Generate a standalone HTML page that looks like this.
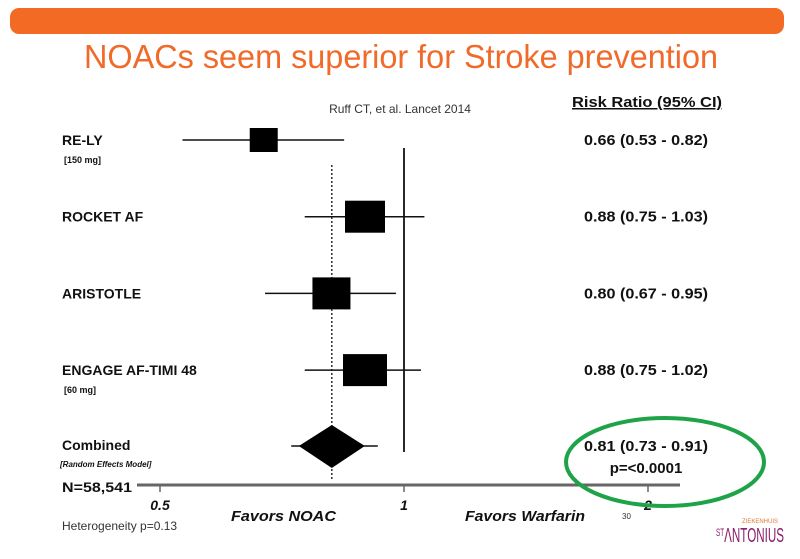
<!DOCTYPE html>
<html><head><meta charset="utf-8"><style>
body{margin:0;background:#fff;}
svg text{font-family:"Liberation Sans",Arial,sans-serif;}
</style></head><body>
<svg width="800" height="554" viewBox="0 0 800 554" xmlns="http://www.w3.org/2000/svg">
<rect x="10" y="8" width="774" height="26" rx="9" fill="#f26a24"/>
<text x="401" y="68" text-anchor="middle" font-size="33" fill="#f06a2a" textLength="634" lengthAdjust="spacingAndGlyphs">NOACs seem superior for Stroke prevention</text>
<text x="400" y="113" text-anchor="middle" font-size="12" fill="#333">Ruff CT, et al. Lancet 2014</text>
<text x="647" y="107" text-anchor="middle" font-size="15" font-weight="bold" fill="#111" text-decoration="underline" textLength="150" lengthAdjust="spacingAndGlyphs">Risk Ratio (95% CI)</text>
<g id="plot"></g>
<ellipse cx="665" cy="462" rx="99" ry="44" fill="none" stroke="#1fa348" stroke-width="4"/>
<text x="62" y="492" font-size="14" font-weight="bold" fill="#111" textLength="70" lengthAdjust="spacingAndGlyphs">N=58,541</text>
<text x="231" y="521" font-size="15" font-weight="bold" font-style="italic" fill="#111" textLength="105" lengthAdjust="spacingAndGlyphs">Favors NOAC</text>
<text x="465" y="521" font-size="15" font-weight="bold" font-style="italic" fill="#111" textLength="120" lengthAdjust="spacingAndGlyphs">Favors Warfarin</text>
<text x="62" y="530" font-size="12" fill="#333">Heterogeneity p=0.13</text>
<text x="622" y="519" font-size="8" fill="#333">30</text>
<text x="760" y="523" font-size="6" fill="#e0783a" text-anchor="middle">ZIEKENHUIS</text>
<text x="716" y="542" font-size="20" fill="#8b1d6b" textLength="68" lengthAdjust="spacingAndGlyphs"><tspan font-size="11" dy="-6">ST</tspan><tspan dy="6">ΛNTONIUS</tspan></text>
</svg>
<script>
const studies=["RE-LY","ROCKET AF","ARISTOTLE","ENGAGE AF-TIMI  48"];
const subs=["[150 mg]","","","[60 mg]"];
const rr=[0.66,0.88,0.80,0.88];
const lo=[0.53,0.75,0.67,0.75];
const hi=[0.82,1.03,0.95,1.02];
const weights=[0.7,1,0.95,1.1];
const combined=[0.81,0.73,0.91];
const ticks=[0.5,1,2];
const tickLabels=["0.5","1","2"];
const NS="http://www.w3.org/2000/svg";
const g=document.getElementById('plot');
const x=v=>406+244*Math.log2(v);
const rowY=i=>140+i*76.7;
function el(t,a){const e=document.createElementNS(NS,t);for(const k in a)e.setAttribute(k,a[k]);g.appendChild(e);return e;}
let e;
e=el('line',{x1:404,x2:404,y1:148,y2:452,stroke:'#111','stroke-width':1.8});


e=el('line',{x1:x(combined[0]),x2:x(combined[0]),y1:165,y2:480,stroke:'#111','stroke-width':1.3,'stroke-dasharray':'2,2'});


e=el('line',{x1:137,x2:680,y1:485,y2:485,stroke:'#666','stroke-width':3});


ticks.forEach((t,i)=>{
 e=el('line',{x1:x(t)-2,x2:x(t)-2,y1:486,y2:492,stroke:'#666','stroke-width':1.5});
 
 
 e=el('text',{x:x(t)-2,y:510,'text-anchor':'middle','font-size':14,'font-weight':'bold','font-style':'italic',fill:'#111'});
 e.textContent=tickLabels[i];
 
 
});
studies.forEach((s,i)=>{
 const y=rowY(i);
 e=el('text',{x:62,y:y+5,'font-size':14,'font-weight':'bold',fill:'#111'});e.textContent=s;
 
 
 if(subs[i]){e=el('text',{x:64,y:y+23,'font-size':9,'font-weight':'bold',fill:'#111'});e.textContent=subs[i];
 
 }
 e=el('line',{x1:x(lo[i]),x2:x(hi[i])+8,y1:y,y2:y,stroke:'#111','stroke-width':1.5});
 
 
 const w=40*weights[i],h=32*Math.min(1,weights[i]+0.05);
 e=el('rect',{x:x(rr[i])-w/2+4,y:y-h/2,width:w,height:h,fill:'#000'});
 
 
 e=el('text',{x:646,y:y+5,'text-anchor':'middle','font-size':15,'font-weight':'bold',fill:'#111',textLength:124,lengthAdjust:'spacingAndGlyphs'});
 e.textContent=rr[i].toFixed(2)+" ("+lo[i].toFixed(2)+" - "+hi[i].toFixed(2)+")";
 
 
});
const cy=446;
e=el('text',{x:62,y:cy+4,'font-size':14,'font-weight':'bold',fill:'#111'});e.textContent="Combined";


e=el('text',{x:60,y:cy+21,'font-size':8,'font-weight':'bold','font-style':'italic',fill:'#111'});e.textContent="[Random Effects Model]";


e=el('line',{x1:x(combined[1])-4,x2:x(combined[2])+5,y1:cy,y2:cy,stroke:'#111','stroke-width':1.5});


const cx=x(combined[0]);
e=el('polygon',{points:`${cx-33},${cy} ${cx},${cy-21} ${cx+33},${cy} ${cx},${cy+22}`,fill:'#000'});


e=el('text',{x:646,y:cy+5,'text-anchor':'middle','font-size':15,'font-weight':'bold',fill:'#111',textLength:124,lengthAdjust:'spacingAndGlyphs'});
e.textContent=combined[0].toFixed(2)+" ("+combined[1].toFixed(2)+" - "+combined[2].toFixed(2)+")";


e=el('text',{x:646,y:cy+27,'text-anchor':'middle','font-size':15,'font-weight':'bold',fill:'#111'});
e.textContent="p=<0.0001";


</script>
</body></html>
